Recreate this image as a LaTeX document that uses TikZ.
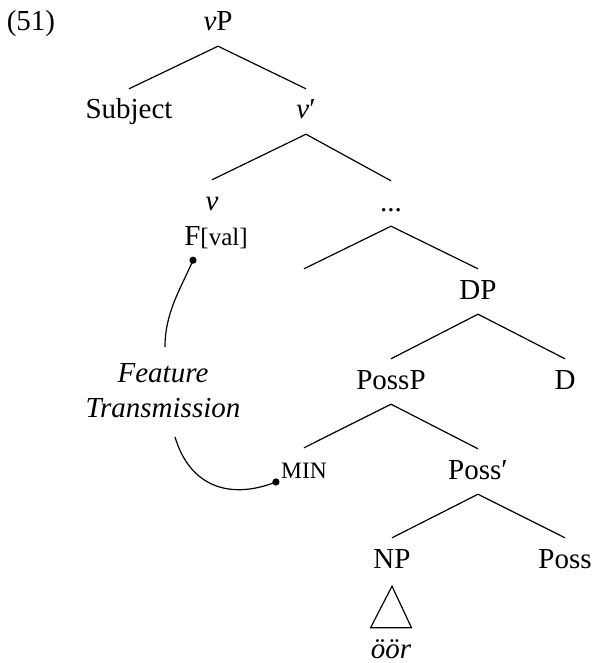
\documentclass[tikz,border=0pt]{standalone}
\usepackage{fontspec}
\setmainfont{Liberation Serif}
\begin{document}
\begin{tikzpicture}[x=1pt,y=-1pt,
  lbl/.style={anchor=base, inner sep=0pt, text height=30pt, text depth=15pt, font=\fontsize{29}{33}\selectfont},
  edge/.style={line width=1.2pt},
  curve/.style={line width=1.2pt},
  dotmark/.style={fill=black}]
\useasboundingbox (0,0) rectangle (592,663);
\node[lbl] (ex) at (31,31) {(51)};
\node[lbl] (vP) at (218,31) {\textit{v}P};
\node[lbl] (subj) at (129,119) {Subject};
\node[lbl] (vbar) at (306,119) {\textit{v}′};
\node[lbl] (v) at (212,210) {\textit{v}};
\node[lbl] (dots) at (391,211) {...};
\node[lbl] (F) at (216,245) {F{\fontsize{25}{29}\selectfont[val]}};
\node[lbl] (DP) at (478,299) {DP};
\node[lbl] (PossP) at (391,389) {PossP};
\node[lbl] (D) at (565,389) {D};
\node[lbl, font=\fontsize{23.5}{27}\selectfont] (min) at (304,478) {MIN};
\node[lbl] (Possb) at (478,479) {Poss′};
\node[lbl] (NP) at (392,568) {NP};
\node[lbl] (Poss) at (565,568) {Poss};
\node[lbl] (oor) at (391,658) {\textit{öör}};
\node[anchor=base, align=center, inner sep=0pt, font=\fontsize{29}{35}\selectfont\itshape] (ft) at (163,417) {Feature\\Transmission};

\draw[edge] (vP.south) -- (subj.north);
\draw[edge] (vP.south) -- (vbar.north);
\draw[edge] (vbar.south) -- (v.north);
\draw[edge] (vbar.south) -- (dots.north);
\draw[edge] (dots.south) -- ([xshift=-174pt]DP.north);
\draw[edge] (dots.south) -- (DP.north);
\draw[edge] (DP.south) -- (PossP.north);
\draw[edge] (DP.south) -- (D.north);
\draw[edge] (PossP.south) -- (min.north);
\draw[edge] (PossP.south) -- (Possb.north);
\draw[edge] (Possb.south) -- (NP.north);
\draw[edge] (Possb.south) -- (Poss.north);
\draw[edge] ([yshift=-3pt]NP.south) -- ([xshift=-20.5pt]oor.north) -- ([xshift=20.5pt]oor.north) -- cycle;

\coordinate (d1) at ([xshift=-23pt]F.south);
\coordinate (d2) at ([xshift=-5pt,yshift=-4pt]min.base west);
\coordinate (c1) at (165,347);
\coordinate (c2) at (175,437);
\draw[curve] (d1) .. controls +(-12,28) and +(0,-35) .. (c1);
\draw[curve] (c2) .. controls (190,487) and (230,500) .. (d2);
\fill[dotmark] (d1) circle (3.6pt);
\fill[dotmark] (d2) circle (3.6pt);
\end{tikzpicture}
\end{document}
